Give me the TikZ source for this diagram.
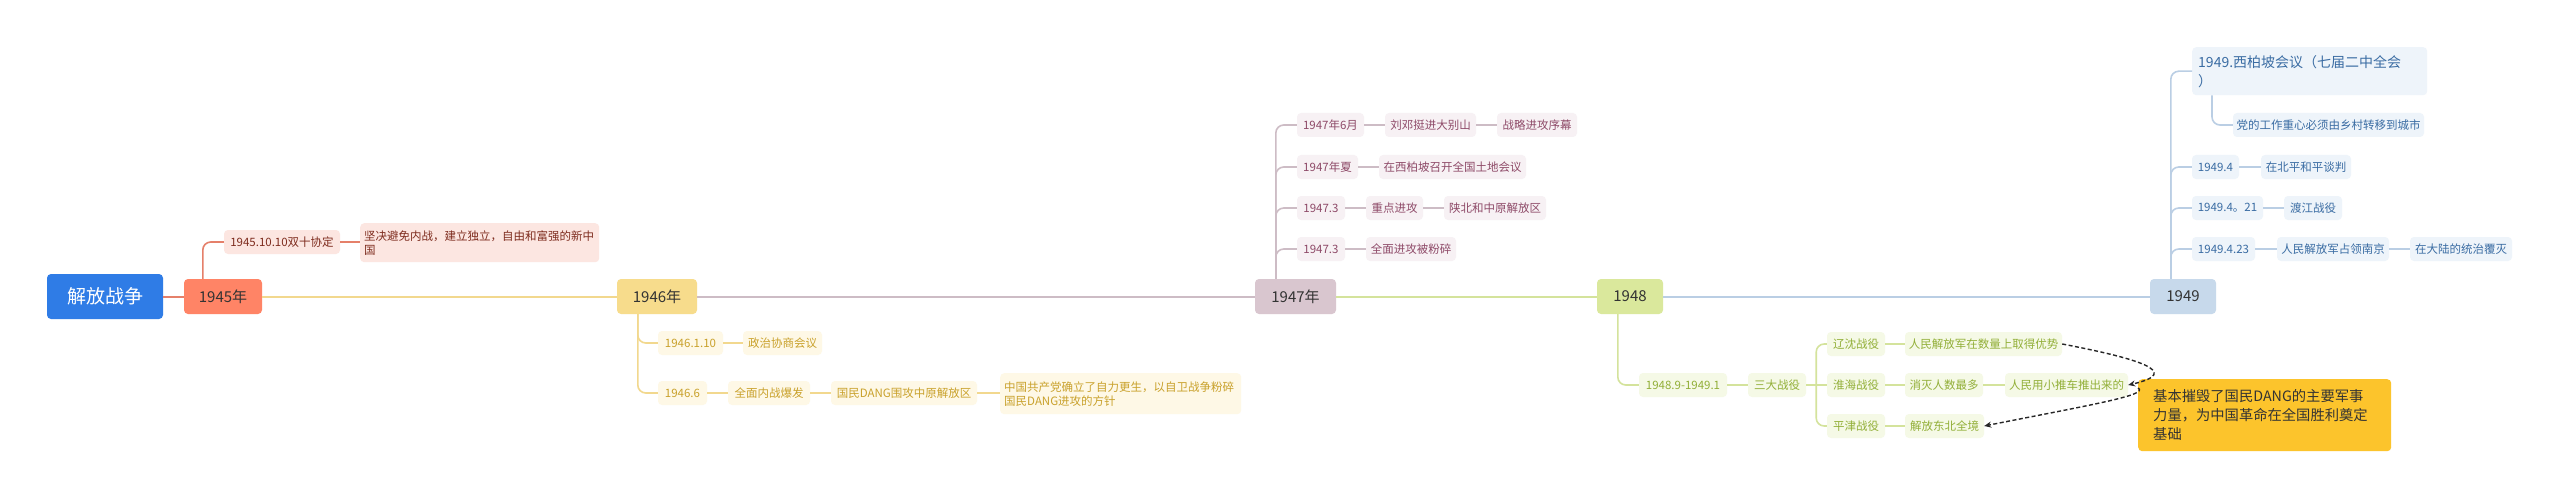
\documentclass[tikz,border=0pt]{standalone}
\usepackage{fontspec}
\setmainfont{Noto Sans CJK SC}
\usetikzlibrary{calc,arrows.meta}
\definecolor{rootc}{HTML}{2F7CE6}
\definecolor{c45}{HTML}{FF8466}
\definecolor{l45}{HTML}{E5806A}
\definecolor{s45}{HTML}{FCE6E1}
\definecolor{t45}{HTML}{7E2C1E}
\definecolor{c46}{HTML}{F7DC8C}
\definecolor{l46}{HTML}{F2D88E}
\definecolor{s46}{HTML}{FEF8E6}
\definecolor{t46}{HTML}{C9A12B}
\definecolor{c47}{HTML}{D9C6CF}
\definecolor{l47}{HTML}{CDBCC5}
\definecolor{s47}{HTML}{F7F1F4}
\definecolor{t47}{HTML}{8E4A68}
\definecolor{c48}{HTML}{DAE89C}
\definecolor{l48}{HTML}{D4E39C}
\definecolor{s48}{HTML}{F5F9E6}
\definecolor{t48}{HTML}{92AF38}
\definecolor{c49}{HTML}{C7D9EB}
\definecolor{l49}{HTML}{BACEE4}
\definecolor{s49}{HTML}{EEF4FA}
\definecolor{t49}{HTML}{3A6CA3}
\definecolor{callc}{HTML}{FCC42C}
\definecolor{dark}{HTML}{333333}
\tikzset{
  rootbox/.style={fill=rootc, rounded corners=4pt, text=white, font=\fontsize{19pt}{23pt}\selectfont, minimum height=45pt, minimum width=116pt, inner sep=0pt},
  yearbox/.style={rounded corners=4pt, text=dark, font=\fontsize{15pt}{18pt}\selectfont, minimum height=35pt, inner sep=0pt},
  subbox/.style={rounded corners=4pt, font=\fontsize{11.5pt}{14pt}\selectfont, minimum height=24pt, inner sep=0pt},
  k45/.style={subbox, fill=s45, text=t45},
  k46/.style={subbox, fill=s46, text=t46},
  k47/.style={subbox, fill=s47, text=t47},
  k48/.style={subbox, fill=s48, text=t48},
  k49/.style={subbox, fill=s49, text=t49},
  mainln/.style={line width=2pt},
  brln/.style={line width=1.6pt},
  rc/.style={rounded corners=8pt},
  rel/.style={draw=black!85, line width=1.4pt, dash pattern=on 4pt off 2.5pt, -{Stealth[length=7pt,width=6pt]}},
}
\begin{document}
\begin{tikzpicture}[x=1pt,y=-1pt]
\fill[white] (0,0) rectangle (2560,500);
\useasboundingbox (0,0) rectangle (2560,500);

% main nodes
\node[rootbox] (root) at (105,296.5) {解放战争};
\node[yearbox, fill=c45, minimum width=78pt] (y45) at (223,296.5) {1945年};
\node[yearbox, fill=c46, minimum width=80pt] (y46) at (657,296.5) {1946年};
\node[yearbox, fill=c47, minimum width=81pt] (y47) at (1295.5,296.5) {1947年};
\node[yearbox, fill=c48, minimum width=66pt] (y48) at (1630,296.5) {1948};
\node[yearbox, fill=c49, minimum width=66pt] (y49) at (2183,296.5) {1949};

% 1945
\node[k45, minimum width=116pt] (a1) at (282,242) {1945.10.10双十协定};
\node[k45, anchor=north west, text width=231pt, inner xsep=4pt, align=left, minimum height=39pt] (a2) at (360,223) {坚决避免内战，建立独立，自由和富强的新中\\国};

% 1946
\node[k46, minimum width=65pt] (b1) at (690.5,343) {1946.1.10};
\node[k46, minimum width=79pt] (b2) at (782.5,343) {政治协商会议};
\node[k46, minimum width=49pt] (b3) at (682.5,393) {1946.6};
\node[k46, minimum width=82pt] (b4) at (769,393) {全面内战爆发};
\node[k46, minimum width=146pt] (b5) at (904,393) {国民DANG围攻中原解放区};
\node[k46, anchor=north west, text width=233pt, inner xsep=4pt, align=left, minimum height=41pt] (b6) at (1000,373) {中国共产党确立了自力更生，以自卫战争粉碎\\国民DANG进攻的方针};

% 1947
\node[k47, minimum width=67pt] (c1) at (1330.5,125) {1947年6月};
\node[k47, minimum width=91pt] (c2) at (1430.5,125) {刘邓挺进大别山};
\node[k47, minimum width=80pt] (c3) at (1537,125) {战略进攻序幕};
\node[k47, minimum width=61pt] (c4) at (1327.5,167) {1947年夏};
\node[k47, minimum width=147pt] (c5) at (1452.5,167) {在西柏坡召开全国土地会议};
\node[k47, minimum width=48pt] (c6) at (1321,208) {1947.3};
\node[k47, minimum width=57pt] (c7) at (1394.5,208) {重点进攻};
\node[k47, minimum width=102pt] (c8) at (1495,208) {陕北和中原解放区};
\node[k47, minimum width=48pt] (c9) at (1321,249) {1947.3};
\node[k47, minimum width=90pt] (c10) at (1411,249) {全面进攻被粉碎};

% 1948
\node[k48, minimum width=88pt] (e1) at (1683,385) {1948.9-1949.1};
\node[k48, minimum width=58pt] (e2) at (1777,385) {三大战役};
\node[k48, minimum width=58pt] (f1) at (1856,344) {辽沈战役};
\node[k48, minimum width=58pt] (f2) at (1856,385) {淮海战役};
\node[k48, minimum width=58pt] (f3) at (1856,426) {平津战役};
\node[k48, minimum width=157pt] (f1r) at (1983.5,344) {人民解放军在数量上取得优势};
\node[k48, minimum width=78pt] (f2a) at (1944,385) {消灭人数最多};
\node[k48, minimum width=123pt] (f2b) at (2066.5,385) {人民用小推车推出来的};
\node[k48, minimum width=79pt] (f3a) at (1944.5,426) {解放东北全境};
\node[fill=callc, rounded corners=4pt, anchor=north west, text width=223pt, inner xsep=15pt, inner ysep=0pt, align=left, minimum height=72pt, text=dark, font=\fontsize{14.3pt}{19pt}\selectfont] (callout) at (2138,379) {基本摧毁了国民DANG的主要军事\\力量，为中国革命在全国胜利奠定\\基础};

% 1949
\node[k49, anchor=north west, text width=223pt, inner xsep=6pt, align=left, minimum height=48pt, font=\fontsize{14pt}{19pt}\selectfont] (d0) at (2192,47) {1949.西柏坡会议（七届二中全会\\）};
\node[k49, minimum width=191pt] (d0a) at (2328.5,125) {党的工作重心必须由乡村转移到城市};
\node[k49, minimum width=47pt] (d1) at (2215.5,167) {1949.4};
\node[k49, minimum width=90pt] (d2) at (2306,167) {在北平和平谈判};
\node[k49, minimum width=71pt] (d3) at (2227.5,208) {1949.4。21};
\node[k49, minimum width=58pt] (d4) at (2313,208) {渡江战役};
\node[k49, minimum width=63pt] (d5) at (2223.5,249) {1949.4.23};
\node[k49, minimum width=112pt] (d6) at (2333,249) {人民解放军占领南京};
\node[k49, minimum width=102pt] (d7) at (2461,249) {在大陆的统治覆灭};

% main connectors
\draw[l45, mainln] (root) -- (y45);
\draw[l46, mainln] (y45) -- (y46);
\draw[l47, mainln] (y46) -- (y47);
\draw[l48, mainln] (y47) -- (y48);
\draw[l49, mainln] (y48) -- (y49);

% 1945 branches
\draw[l45, brln, rc] ($(y45.north west)+(19,0)$) |- (a1.west);
\draw[l45, brln] (a1.east) -- (a1.east -| a2.west);

% 1946 branches
\draw[l46, brln, rc] ($(y46.south west)+(21,0)$) |- (b1.west);
\draw[l46, brln, rc] ($(y46.south west)+(21,0)$) |- (b3.west);
\draw[l46, brln] (b1) -- (b2);
\draw[l46, brln] (b3) -- (b4);
\draw[l46, brln] (b4) -- (b5);
\draw[l46, brln] (b5.east) -- (b5.east -| b6.west);

% 1947 branches
\draw[l47, brln, rc] ($(y47.north west)+(21,0)$) |- (c1.west);
\draw[l47, brln, rc] ($(y47.north west)+(21,0)$) |- (c4.west);
\draw[l47, brln, rc] ($(y47.north west)+(21,0)$) |- (c6.west);
\draw[l47, brln, rc] ($(y47.north west)+(21,0)$) |- (c9.west);
\draw[l47, brln] (c1) -- (c2);
\draw[l47, brln] (c2) -- (c3);
\draw[l47, brln] (c4) -- (c5);
\draw[l47, brln] (c6) -- (c7);
\draw[l47, brln] (c7) -- (c8);
\draw[l47, brln] (c9) -- (c10);

% 1948 branches
\draw[l48, brln, rc] ($(y48.south west)+(21,0)$) |- (e1.west);
\draw[l48, brln] (e1) -- (e2);
\coordinate (j48) at ($(e2.east)+(10,0)$);
\draw[l48, brln] (e2.east) -- (j48);
\draw[l48, brln, rc] (j48) |- (f1.west);
\draw[l48, brln] (j48) -- (f2.west);
\draw[l48, brln, rc] (j48) |- (f3.west);
\draw[l48, brln] (f1) -- (f1r);
\draw[l48, brln] (f2) -- (f2a);
\draw[l48, brln] (f2a) -- (f2b);
\draw[l48, brln] (f3) -- (f3a);

% 1949 branches
\draw[l49, brln, rc] ($(y49.north west)+(21,0)$) |- (d0.west);
\draw[l49, brln, rc] ($(y49.north west)+(21,0)$) |- (d1.west);
\draw[l49, brln, rc] ($(y49.north west)+(21,0)$) |- (d3.west);
\draw[l49, brln, rc] ($(y49.north west)+(21,0)$) |- (d5.west);
\draw[l49, brln, rc] ($(d0.south west)+(20,0)$) |- (d0a.west);
\draw[l49, brln] (d1) -- (d2);
\draw[l49, brln] (d3) -- (d4);
\draw[l49, brln] (d5) -- (d6);
\draw[l49, brln] (d6) -- (d7);

% relationships
\draw[rel] (f1r.east) .. controls (2135,358) and (2185,372) .. (f2b.east);
\coordinate (cs) at ($(callout.north west)+(0,9)$);
\draw[rel] (cs) .. controls (2150,395) and (2090,405) .. (f3a.east);
\end{tikzpicture}
\end{document}
